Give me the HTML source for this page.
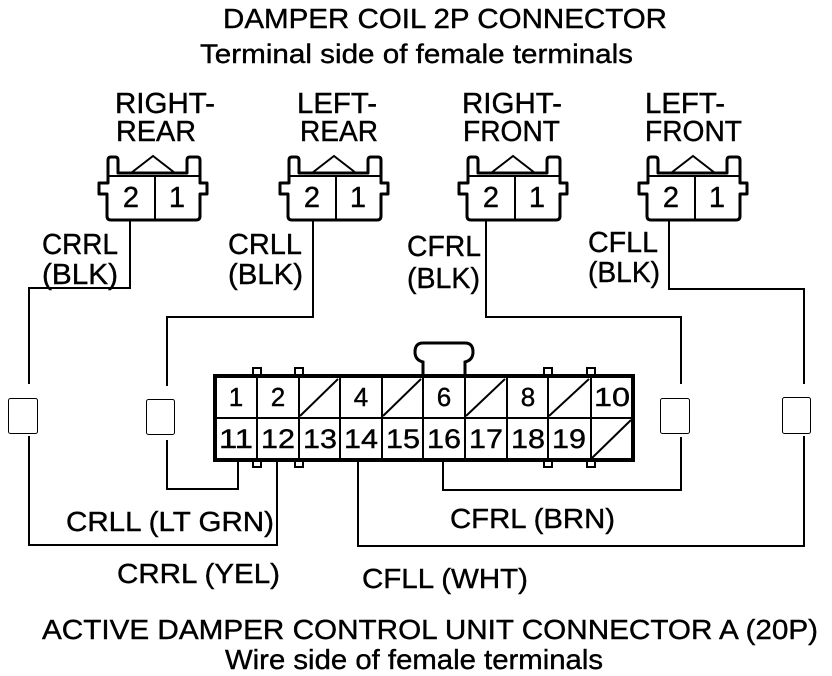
<!DOCTYPE html>
<html><head><meta charset="utf-8"><style>
html,body{margin:0;padding:0;background:#fff;width:832px;height:676px;overflow:hidden}
svg{display:block}
text{font-family:"Liberation Sans",sans-serif;fill:#000;stroke:#000;stroke-width:0.4}
</style></head><body>
<svg width="832" height="676" viewBox="0 0 832 676" xmlns="http://www.w3.org/2000/svg">
<defs>
<g id="conn">
<path d="M108,183 V160 Q108,157 111,157 H115 Q118,157 118,160 V173 H187 V160 Q187,157 190,157 H197 Q200,157 200,160 V183 H207 V194 H200 V216 Q200,220 196,220 H111 Q107,220 107,216 V194 H99 V183 Z" fill="none" stroke="#000" stroke-width="3" stroke-linejoin="round"/>
<line x1="108" y1="176" x2="200" y2="176" stroke="#000" stroke-width="2"/>
<polyline points="131,173 153,156 175,173" fill="none" stroke="#000" stroke-width="2"/>
<line x1="155" y1="176" x2="155" y2="220" stroke="#000" stroke-width="2"/>
<text x="131" y="207" font-size="29" text-anchor="middle">2</text>
<text x="177" y="207" font-size="29" text-anchor="middle">1</text>
</g>
</defs>

<text x="223" y="28" font-size="28" textLength="444" lengthAdjust="spacingAndGlyphs">DAMPER COIL 2P CONNECTOR</text>
<text x="200" y="63" font-size="27" textLength="433" lengthAdjust="spacingAndGlyphs">Terminal side of female terminals</text>

<g font-size="29">
<text x="115" y="113" textLength="100" lengthAdjust="spacingAndGlyphs">RIGHT-</text>
<text x="116" y="141" textLength="80" lengthAdjust="spacingAndGlyphs">REAR</text>
<text x="297" y="113" textLength="80" lengthAdjust="spacingAndGlyphs">LEFT-</text>
<text x="300" y="141" textLength="78" lengthAdjust="spacingAndGlyphs">REAR</text>
<text x="462" y="113" textLength="100" lengthAdjust="spacingAndGlyphs">RIGHT-</text>
<text x="463" y="141" textLength="97" lengthAdjust="spacingAndGlyphs">FRONT</text>
<text x="645" y="113" textLength="80" lengthAdjust="spacingAndGlyphs">LEFT-</text>
<text x="645" y="141" textLength="97" lengthAdjust="spacingAndGlyphs">FRONT</text>
</g>

<use href="#conn"/>
<use href="#conn" transform="translate(181,0)"/>
<use href="#conn" transform="translate(360,0)"/>
<use href="#conn" transform="translate(540,0)"/>

<g font-size="29">
<text x="42" y="254" textLength="76" lengthAdjust="spacingAndGlyphs">CRRL</text>
<text x="42" y="284" textLength="76" lengthAdjust="spacingAndGlyphs">(BLK)</text>
<text x="228" y="254" textLength="74" lengthAdjust="spacingAndGlyphs">CRLL</text>
<text x="228" y="284" textLength="75" lengthAdjust="spacingAndGlyphs">(BLK)</text>
<text x="407" y="256" textLength="74" lengthAdjust="spacingAndGlyphs">CFRL</text>
<text x="407" y="288" textLength="73" lengthAdjust="spacingAndGlyphs">(BLK)</text>
<text x="588" y="252" textLength="70" lengthAdjust="spacingAndGlyphs">CFLL</text>
<text x="588" y="282" textLength="72" lengthAdjust="spacingAndGlyphs">(BLK)</text>
</g>

<g fill="none" stroke="#000" stroke-width="2">
<polyline points="130,220 130,288 29,288 29,384"/>
<polyline points="29,436 29,545 277,545 277,460"/>
<polyline points="313,220 313,317 167,317 167,386"/>
<polyline points="167,440 167,489 238,489 238,460"/>
<polyline points="486,220 486,317 681,317 681,384"/>
<polyline points="681,437 681,490 443,490 443,460"/>
<polyline points="669,220 669,289 804,289 804,384"/>
<polyline points="804,436 804,546 358,546 358,460"/>
</g>
<g fill="none" stroke="#000" stroke-width="1">
<rect x="8.5" y="398.5" width="29" height="35" rx="2"/>
<rect x="146.5" y="399.5" width="28" height="35" rx="2"/>
<rect x="660.5" y="398.5" width="29" height="35" rx="2"/>
<rect x="782.5" y="397.5" width="28" height="36" rx="2"/>
</g>

<path d="M423,375 V362 Q415,360 415,352 Q415,343 423,343 H465 Q473,343 473,352 Q473,360 465,362 V375" fill="none" stroke="#000" stroke-width="3"/>
<g fill="#fff" stroke="#000" stroke-width="2">
<rect x="253" y="368" width="8" height="8"/><rect x="295" y="368" width="8" height="8"/>
<rect x="544" y="368" width="8" height="8"/><rect x="587" y="368" width="8" height="8"/>
<rect x="253" y="459" width="8" height="8"/><rect x="295" y="459" width="8" height="8"/>
<rect x="544" y="459" width="8" height="8"/><rect x="587" y="459" width="8" height="8"/>
</g>
<rect x="215" y="376" width="418" height="84" fill="none" stroke="#000" stroke-width="4"/>
<g stroke="#000" stroke-width="2" fill="none">
<line x1="215" y1="418" x2="633" y2="418"/>
<line x1="257" y1="376" x2="257" y2="460"/>
<line x1="299" y1="376" x2="299" y2="460"/>
<line x1="340" y1="376" x2="340" y2="460"/>
<line x1="382" y1="376" x2="382" y2="460"/>
<line x1="423" y1="376" x2="423" y2="460"/>
<line x1="465" y1="376" x2="465" y2="460"/>
<line x1="507" y1="376" x2="507" y2="460"/>
<line x1="548" y1="376" x2="548" y2="460"/>
<line x1="591" y1="376" x2="591" y2="460"/>
<line x1="300" y1="416" x2="338" y2="379"/>
<line x1="383" y1="416" x2="421" y2="379"/>
<line x1="466" y1="416" x2="505" y2="379"/>
<line x1="549" y1="416" x2="589" y2="379"/>
<line x1="592" y1="458" x2="631" y2="420"/>
</g>
<g font-size="26" text-anchor="middle">
<text x="236" y="406">1</text><text x="278" y="406">2</text><text x="361" y="406">4</text>
<text x="444" y="406">6</text><text x="528" y="406">8</text><text x="612" y="406" textLength="36" lengthAdjust="spacingAndGlyphs">10</text>
</g>
<g font-size="27" text-anchor="middle">
<text x="236" y="448" textLength="34" lengthAdjust="spacingAndGlyphs">11</text><text x="278" y="448" textLength="34" lengthAdjust="spacingAndGlyphs">12</text><text x="320" y="448" textLength="34" lengthAdjust="spacingAndGlyphs">13</text>
<text x="361" y="448" textLength="34" lengthAdjust="spacingAndGlyphs">14</text><text x="403" y="448" textLength="34" lengthAdjust="spacingAndGlyphs">15</text><text x="444" y="448" textLength="34" lengthAdjust="spacingAndGlyphs">16</text>
<text x="486" y="448" textLength="34" lengthAdjust="spacingAndGlyphs">17</text><text x="528" y="448" textLength="34" lengthAdjust="spacingAndGlyphs">18</text><text x="569" y="448" textLength="34" lengthAdjust="spacingAndGlyphs">19</text>
</g>

<g font-size="28">
<text x="66" y="531" textLength="208" lengthAdjust="spacingAndGlyphs">CRLL (LT GRN)</text>
<text x="450" y="528" textLength="165" lengthAdjust="spacingAndGlyphs">CFRL (BRN)</text>
<text x="117" y="583" textLength="163" lengthAdjust="spacingAndGlyphs">CRRL (YEL)</text>
<text x="362" y="588" textLength="166" lengthAdjust="spacingAndGlyphs">CFLL (WHT)</text>
<text x="42" y="639" textLength="776" lengthAdjust="spacingAndGlyphs">ACTIVE DAMPER CONTROL UNIT CONNECTOR A (20P)</text>
<text x="225" y="669" textLength="378" lengthAdjust="spacingAndGlyphs">Wire side of female terminals</text>
</g>
</svg>
</body></html>
